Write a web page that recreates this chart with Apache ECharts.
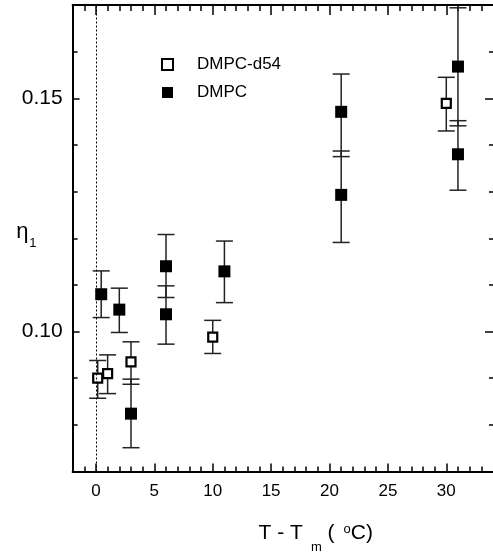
<!DOCTYPE html>
<html>
<head>
<meta charset="utf-8">
<script src="https://cdn.jsdelivr.net/npm/echarts@6/dist/echarts.min.js"></script>
<style>html,body{margin:0;padding:0;background:#fff}#c{width:493px;height:552px}</style>
</head>
<body>
<div id="c"></div>
<script>
// ---- data ----
const d54X  = [0.15, 1, 3, 10, 30];
const d54Y  = [0.0900, 0.0910, 0.0935, 0.0988, 0.1489];
const d54Lo = [0.0857, 0.0867, 0.0887, 0.0953, 0.1430];
const d54Hi = [0.0938, 0.0950, 0.0978, 0.1024, 0.1545];

const dmpcX  = [0.45, 2, 3, 6, 6, 11, 21, 21, 31, 31];
const dmpcY  = [0.1080, 0.1047, 0.0824, 0.1140, 0.1037, 0.1129, 0.1471, 0.1293, 0.1568, 0.1380];
const dmpcLo = [0.1030, 0.0998, 0.0751, 0.1073, 0.0973, 0.1062, 0.1375, 0.1191, 0.1441, 0.1303];
const dmpcHi = [0.1130, 0.1093, 0.0898, 0.1208, 0.1098, 0.1194, 0.1552, 0.1387, 0.1694, 0.1452];

const xMajorTicks = [0, 5, 10, 15, 20, 25, 30];
const xMinorTicks = [-1, 1, 2, 3, 4, 6, 7, 8, 9, 11, 12, 13, 14, 16, 17, 18, 19, 21, 22, 23, 24, 26, 27, 28, 29, 31, 32, 33];
const yMajorTicks = [0.10, 0.15];
const yMinorTicks = [0.08, 0.09, 0.11, 0.12, 0.13, 0.14, 0.16];
const xMin = -2, xMax = 34, yMin = 0.07, yMax = 0.17;
const refLineX = 0;

// ---- chart ----
const chart = echarts.init(document.getElementById('c'), null, {renderer: 'canvas'});
const FONT = 'Liberation Sans, Arial, Helvetica, sans-serif';

function errRender(params, api) {
  const x = api.value(0), lo = api.value(1), hi = api.value(2);
  const a = api.coord([x, lo]), b = api.coord([x, hi]);
  const w = 8.5;
  const st = {stroke: '#222', lineWidth: 1.5};
  return {type: 'group', children: [
    {type: 'line', shape: {x1: a[0], y1: a[1], x2: b[0], y2: b[1]}, style: st},
    {type: 'line', shape: {x1: a[0] - w, y1: a[1], x2: a[0] + w, y2: a[1]}, style: st},
    {type: 'line', shape: {x1: b[0] - w, y1: b[1], x2: b[0] + w, y2: b[1]}, style: st}
  ]};
}

const noSplit = {show: false};
function xAx(pos, ticks, len, main) {
  return {
    type: 'value', min: xMin, max: xMax, position: pos, gridIndex: 0,
    splitLine: noSplit,
    axisLine: {show: main, onZero: false, lineStyle: {color: '#000', width: 2}},
    axisTick: {show: true, inside: true, length: len, customValues: ticks, lineStyle: {color: '#000', width: 1.5}},
    axisLabel: {show: false}
  };
}
function yAx(pos, ticks, len, main) {
  return {
    type: 'value', min: yMin, max: yMax, position: pos, gridIndex: 0,
    splitLine: noSplit,
    axisLine: {show: main, onZero: false, lineStyle: {color: '#000', width: 2}},
    axisTick: {show: true, inside: true, length: len, customValues: ticks, lineStyle: {color: '#000', width: 1.5}},
    axisLabel: {show: false}
  };
}

const xMainAxis = xAx('bottom', xMajorTicks, 8, true);
xMainAxis.axisLabel = {show: true, customValues: xMajorTicks, margin: 11, color: '#000', fontSize: 17, fontFamily: FONT};
xMainAxis.name = '{n|T - T}{s|m}{n| (}{p|o}{n|C)}';
xMainAxis.nameLocation = 'middle';
xMainAxis.nameGap = 51;
xMainAxis.nameMoveOverlap = false;
xMainAxis.nameTextStyle = {
  padding: [0, 0, 0, 66],
  rich: {
    n: {fontSize: 21, fontFamily: FONT, color: '#000', lineHeight: 22, verticalAlign: 'top'},
    s: {fontSize: 13, fontFamily: FONT, color: '#000', lineHeight: 13, verticalAlign: 'top', padding: [18, 0, 0, 8]},
    p: {fontSize: 13, fontFamily: FONT, color: '#000', lineHeight: 13, verticalAlign: 'top', padding: [0, 0, 0, 9]}
  }
};

const yMainAxis = yAx('left', yMajorTicks, 7, true);
yMainAxis.axisLabel = {show: true, customValues: yMajorTicks, margin: 10, color: '#000', fontSize: 21, fontFamily: FONT,
  formatter: v => v.toFixed(2)};
yMainAxis.name = '{e|η}{s|1}';
yMainAxis.nameLocation = 'middle';
yMainAxis.nameRotate = 0;
yMainAxis.nameGap = 36;
yMainAxis.nameMoveOverlap = false;
yMainAxis.nameTextStyle = {
  rich: {
    e: {fontSize: 22, fontFamily: FONT, color: '#000', verticalAlign: 'top', padding: [0, 0, 12, 0]},
    s: {fontSize: 13, fontFamily: FONT, color: '#000', verticalAlign: 'top', padding: [15.5, 0, 0, 1]}
  }
};

const option = {
  animation: false,
  backgroundColor: '#fff',
  grid: {left: 72.6, right: 0, top: 5, bottom: 80.5, containLabel: false, outerBoundsMode: 'none'},
  legend: {
    orient: 'vertical', left: 156, top: 51,
    data: ['DMPC-d54', 'DMPC'],
    itemWidth: 11, itemHeight: 11, itemGap: 11,
    textStyle: {fontSize: 17, fontFamily: FONT, color: '#000', padding: [0, 0, 0, 19]}
  },
  xAxis: [
    xMainAxis,
    xAx('bottom', xMinorTicks, 5, false),
    xAx('top', xMajorTicks, 10, true),
    xAx('top', xMinorTicks, 6, false)
  ],
  yAxis: [
    yMainAxis,
    yAx('left', yMinorTicks, 5, false),
    yAx('right', yMajorTicks, 8, false),
    yAx('right', yMinorTicks, 4, false)
  ],
  series: [
    {
      type: 'custom', name: 'errDMPC', renderItem: errRender, z: 2,
      encode: {x: 0, y: [1, 2]},
      data: dmpcX.map((x, i) => [x, dmpcLo[i], dmpcHi[i]])
    },
    {
      type: 'custom', name: 'errD54', renderItem: errRender, z: 2,
      encode: {x: 0, y: [1, 2]},
      data: d54X.map((x, i) => [x, d54Lo[i], d54Hi[i]])
    },
    {
      type: 'scatter', name: 'DMPC', symbol: 'rect', symbolSize: 12, z: 3,
      itemStyle: {color: '#000', opacity: 1},
      data: dmpcX.map((x, i) => [x, dmpcY[i]]),
      markLine: {
        silent: true, symbol: 'none', label: {show: false},
        lineStyle: {color: '#000', width: 1, type: [2, 2]},
        data: [{xAxis: refLineX}]
      }
    },
    {
      type: 'scatter', name: 'DMPC-d54', symbol: 'rect', symbolSize: 9, z: 4,
      itemStyle: {color: '#fff', borderColor: '#000', borderWidth: 2.2, opacity: 1},
      data: d54X.map((x, i) => [x, d54Y[i]])
    }
  ]
};
chart.setOption(option);
</script>
</body>
</html>
